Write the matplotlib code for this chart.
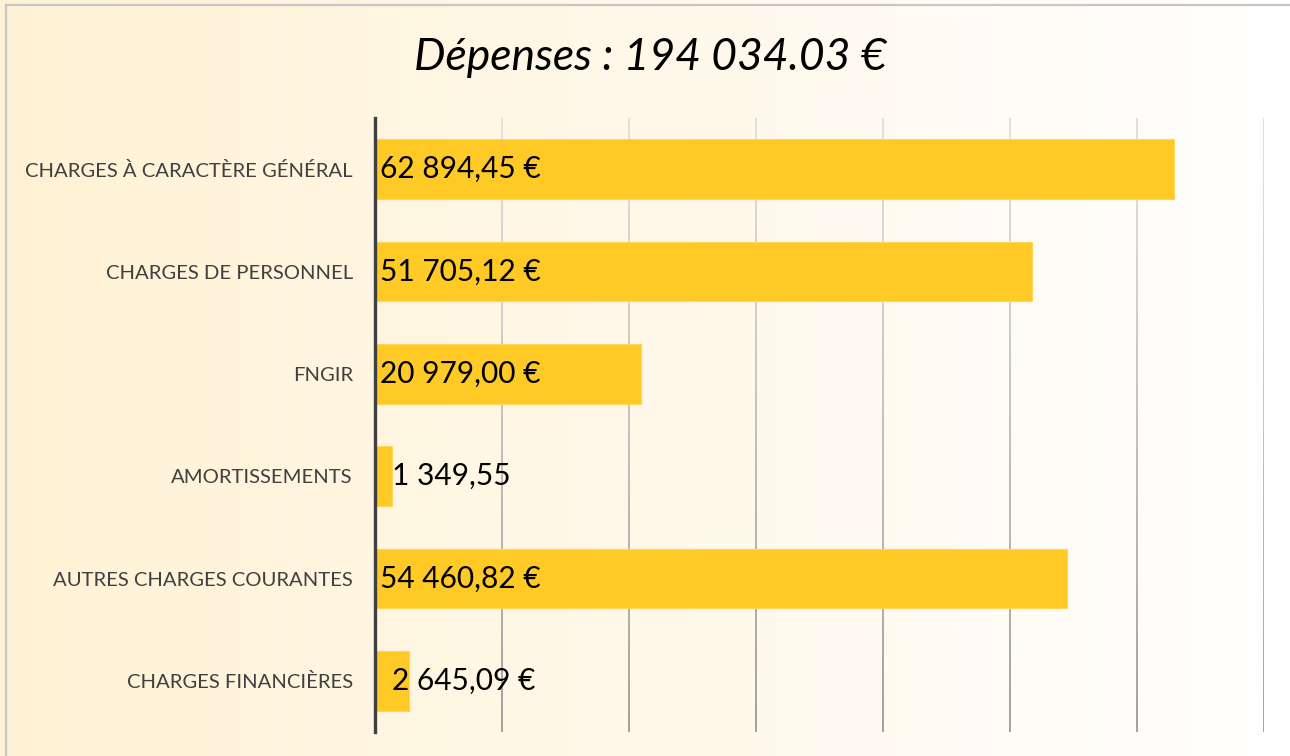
import numpy as np
import matplotlib
matplotlib.use("Agg")
import matplotlib.pyplot as plt
from matplotlib.collections import LineCollection
from matplotlib.lines import Line2D

# données
categories = ["CHARGES À CARACTÈRE GÉNÉRAL", "CHARGES DE PERSONNEL", "FNGIR",
              "AMORTISSEMENTS", "AUTRES CHARGES COURANTES", "CHARGES FINANCIÈRES"]
values = [62894.45, 51705.12, 20979.00, 1349.55, 54460.82, 2645.09]
value_labels = ["62 894,45 €", "51 705,12 €", "20 979,00 €", "1 349,55",
                "54 460,82 €", "2 645,09 €"]
title = "Dépenses : 194 034.03 €"
grid_ticks = [10000, 20000, 30000, 40000, 50000, 60000, 70000]

plt.rcParams['font.family'] = ['Lato', 'DejaVu Sans']

fig = plt.figure(figsize=(12.9, 7.56), dpi=100)

# fond dégradé jaune -> blanc
bg = fig.add_axes([0, 0, 1, 1], zorder=-10)
grad = np.linspace(0, 1, 256)[None, :]
c0 = np.array([255, 242, 212]) / 255.0
c1 = np.array([255, 255, 255]) / 255.0
img = c0[None, None, :] * (1 - grad[..., None]) + c1[None, None, :] * grad[..., None]
bg.imshow(img, aspect="auto", extent=[0, 1, 0, 1])
bg.set_xlim(0, 1)
bg.set_ylim(0, 1)
bg.axis("off")

# bordure
W, H = 1290, 756
fig.add_artist(Line2D([6 / W, 6 / W], [0, 1 - 5 / H], color="#c6c6c6", lw=1.6))
fig.add_artist(Line2D([6 / W, 1], [1 - 5 / H, 1 - 5 / H], color="#c6c6c6", lw=1.6))

ax = fig.add_axes([375 / W, 1 - 732 / H, (1264 - 375) / W, (732 - 118) / H])
ax.patch.set_alpha(0)

y = np.arange(len(categories))
ax.barh(y, values, height=0.585, color="#FFC926", edgecolor="#FFD55A",
        linewidth=0.8, zorder=3)

ax.set_xlim(0, 70000)
ax.set_ylim(len(categories) - 0.5, -0.5)

# grille verticale en dégradé
for gx in grid_ticks:
    ys = np.linspace(-0.5, len(categories) - 0.5, 40)
    segs = [[(gx, ys[i]), (gx, ys[i + 1])] for i in range(len(ys) - 1)]
    t = np.linspace(0, 1, len(segs))
    cols = [(0.88 - 0.25 * k, 0.88 - 0.25 * k, 0.88 - 0.25 * k) for k in t]
    ax.add_collection(LineCollection(segs, colors=cols, linewidths=1.4, zorder=2))

for s in ["top", "right", "bottom"]:
    ax.spines[s].set_visible(False)
ax.spines["left"].set_color("#404040")
ax.spines["left"].set_linewidth(2.4)
ax.spines["left"].set_zorder(5)

ax.set_xticks([])
ax.set_yticks(y)
ax.set_yticklabels(categories, fontsize=14.6, color="#404040")
ax.tick_params(axis="y", length=0, pad=16)

for i, (v, lab) in enumerate(zip(values, value_labels)):
    x0 = 420 if v > 5000 else 1350
    ax.text(x0, i, lab, va="center", ha="left", fontsize=21.5, color="black", zorder=6)

fig.text(650 / W, 1 - 57 / H, title, ha="center", va="center", fontsize=32,
         style="italic", color="black")

fig.savefig("out.png", dpi=100)
